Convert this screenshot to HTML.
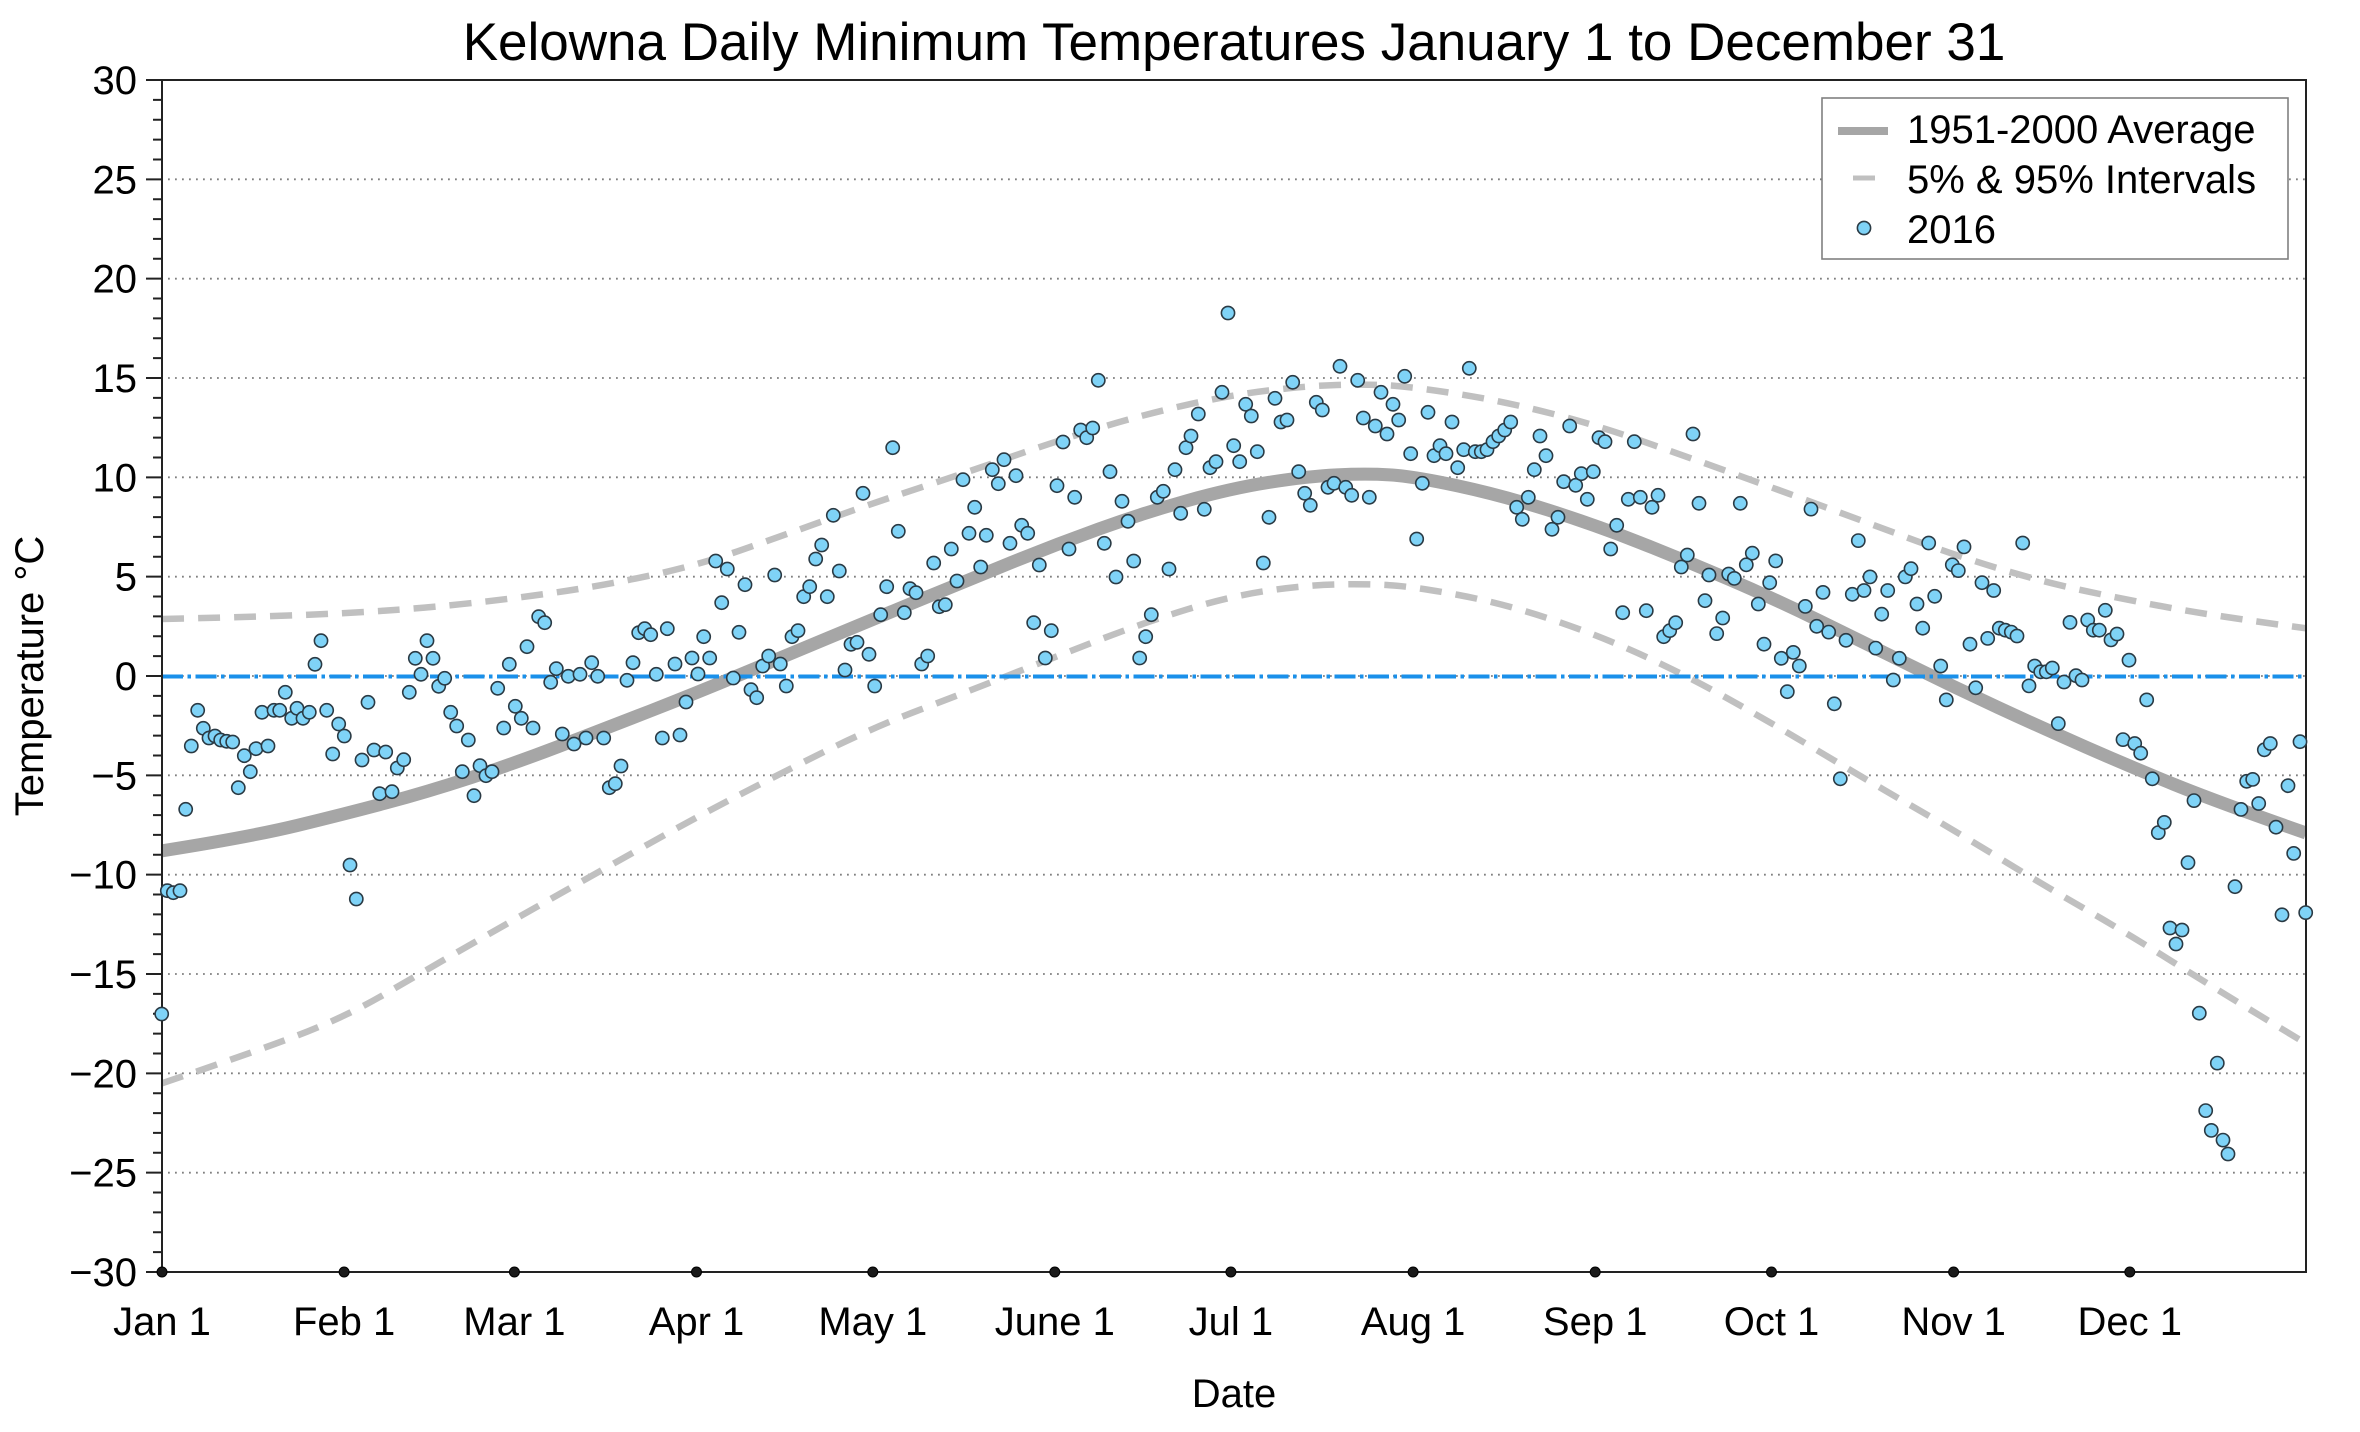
<!DOCTYPE html>
<html><head><meta charset="utf-8"><style>
html,body{margin:0;padding:0;background:#fff;}
svg{display:block;}
text{font-family:"Liberation Sans",Arial,Helvetica,sans-serif;fill:#000;}
</style></head><body>
<svg width="2360" height="1432" viewBox="0 0 2360 1432" xmlns="http://www.w3.org/2000/svg">
<defs><clipPath id="pa"><rect x="162" y="80" width="2144" height="1192"/></clipPath></defs>
<rect width="2360" height="1432" fill="#fff"/>
<text x="1234" y="60" font-size="53" text-anchor="middle">Kelowna Daily Minimum Temperatures January 1 to December 31</text>
<g stroke="#808080" stroke-width="1.8" stroke-dasharray="1.8 5.2" fill="none">
<path d="M168 179.3H2306M168 278.7H2306M168 378H2306M168 477.3H2306M168 576.7H2306M168 676H2306M168 775.3H2306M168 874.7H2306M168 974H2306M168 1073.3H2306M168 1172.7H2306"/>
</g>
<g clip-path="url(#pa)" fill="none">
<path stroke="#c0c0c0" stroke-width="6.5" stroke-dasharray="22 14" d="M162,619 Q250.1,617 297.1,615.2 Q344.1,613.4 385.2,610.65 Q426.3,607.9 470.35,603.2 Q514.4,598.5 558.5,592.05 Q602.6,585.6 649.55,575.65 Q696.5,565.7 740.55,550.3 Q784.6,534.9 828.7,519.05 Q872.8,503.2 919.75,487.8 Q966.7,472.4 1010.75,457 Q1054.8,441.6 1098.85,428.15 Q1142.9,414.7 1187,404.8 Q1231.1,394.9 1269.25,390.4 Q1307.4,385.9 1336.8,384.95 Q1366.2,384 1389.7,385.45 Q1413.2,386.9 1457.25,393.85 Q1501.3,400.8 1548.3,412.75 Q1595.3,424.7 1639.35,440.1 Q1683.4,455.5 1727.45,471.4 Q1771.5,487.3 1818.5,504.65 Q1865.5,522 1909.55,538.4 Q1953.6,554.8 1997.65,568.2 Q2041.7,581.6 2085.75,591.05 Q2129.8,600.5 2173.85,608.45 Q2217.9,616.4 2306,628.3"/>
<path stroke="#c0c0c0" stroke-width="6.5" stroke-dasharray="22 14" d="M162,1083.3 Q250.1,1053.5 297.1,1035.6 Q344.1,1017.7 385.2,993.85 Q426.3,970 470.35,944.7 Q514.4,919.4 558.5,894.55 Q602.6,869.7 649.55,843.4 Q696.5,817.1 740.55,794.25 Q784.6,771.4 828.7,749.55 Q872.8,727.7 919.75,709.8 Q966.7,691.9 1010.75,674.5 Q1054.8,657.1 1098.85,640.05 Q1142.9,623 1187,609.45 Q1231.1,595.9 1269.25,590.45 Q1307.4,585 1336.8,584.4 Q1366.2,583.8 1389.7,585.2 Q1413.2,586.6 1457.25,594.75 Q1501.3,602.9 1548.3,618.4 Q1595.3,633.9 1639.35,653.85 Q1683.4,673.8 1727.45,698.35 Q1771.5,722.9 1818.5,751.1 Q1865.5,779.3 1909.55,804.65 Q1953.6,830 1997.65,857 Q2041.7,884 2085.75,909.45 Q2129.8,934.9 2173.85,962.6 Q2217.9,990.3 2306,1043.5"/>
<path stroke="#a6a6a6" stroke-width="13" d="M162,850.8 Q250.1,836.9 297.1,825.5 Q344.1,814.1 385.2,803.15 Q426.3,792.2 470.35,777.8 Q514.4,763.4 558.5,746.5 Q602.6,729.6 649.55,711.25 Q696.5,692.9 740.55,674.5 Q784.6,656.1 828.7,637.75 Q872.8,619.4 919.75,600 Q966.7,580.6 1010.75,562.75 Q1054.8,544.9 1098.85,529 Q1142.9,513.1 1187,500.7 Q1231.1,488.3 1269.25,482.3 Q1307.4,476.3 1336.8,474.85 Q1366.2,473.4 1389.7,474.85 Q1413.2,476.3 1457.25,485.75 Q1501.3,495.2 1548.3,510.1 Q1595.3,525 1639.35,542.4 Q1683.4,559.8 1727.45,578.65 Q1771.5,597.5 1818.5,620.35 Q1865.5,643.2 1909.55,665.05 Q1953.6,686.9 1997.65,707.3 Q2041.7,727.7 2085.75,747.05 Q2129.8,766.4 2173.85,784.3 Q2217.9,802.2 2306,833"/>
</g>
<line x1="162" y1="676.5" x2="2306" y2="676.5" stroke="#1a90ea" stroke-width="4" stroke-dasharray="21 4.5 3.5 4.5"/>
<g stroke="#222" stroke-width="2" fill="none">
<rect x="162" y="80" width="2144" height="1192"/>
<path d="M146 80H162M153 99.87H162M153 119.73H162M153 139.6H162M153 159.47H162M146 179.33H162M153 199.2H162M153 219.07H162M153 238.93H162M153 258.8H162M146 278.67H162M153 298.53H162M153 318.4H162M153 338.27H162M153 358.13H162M146 378H162M153 397.87H162M153 417.73H162M153 437.6H162M153 457.47H162M146 477.33H162M153 497.2H162M153 517.07H162M153 536.93H162M153 556.8H162M146 576.67H162M153 596.53H162M153 616.4H162M153 636.27H162M153 656.13H162M146 676H162M153 695.87H162M153 715.73H162M153 735.6H162M153 755.47H162M146 775.33H162M153 795.2H162M153 815.07H162M153 834.93H162M153 854.8H162M146 874.67H162M153 894.53H162M153 914.4H162M153 934.27H162M153 954.13H162M146 974H162M153 993.87H162M153 1013.73H162M153 1033.6H162M153 1053.47H162M146 1073.33H162M153 1093.2H162M153 1113.07H162M153 1132.93H162M153 1152.8H162M146 1172.67H162M153 1192.53H162M153 1212.4H162M153 1232.27H162M153 1252.13H162M146 1272H162"/>
</g>
<g fill="#1a1a1a" stroke="#000" stroke-width="1">
<circle cx="162" cy="1272" r="5"/><circle cx="344.1" cy="1272" r="5"/><circle cx="514.4" cy="1272" r="5"/><circle cx="696.5" cy="1272" r="5"/><circle cx="872.8" cy="1272" r="5"/><circle cx="1054.8" cy="1272" r="5"/><circle cx="1230.9" cy="1272" r="5"/><circle cx="1413.1" cy="1272" r="5"/><circle cx="1595.2" cy="1272" r="5"/><circle cx="1771.5" cy="1272" r="5"/><circle cx="1953.6" cy="1272" r="5"/><circle cx="2129.8" cy="1272" r="5"/>
</g>
<g font-size="40" text-anchor="end">
<text x="137" y="94">30</text><text x="137" y="193.3">25</text><text x="137" y="292.7">20</text><text x="137" y="392">15</text><text x="137" y="491.3">10</text><text x="137" y="590.7">5</text><text x="137" y="690">0</text><text x="137" y="789.3">−5</text><text x="137" y="888.7">−10</text><text x="137" y="988">−15</text><text x="137" y="1087.3">−20</text><text x="137" y="1186.7">−25</text><text x="137" y="1286">−30</text>
</g>
<g font-size="40" text-anchor="middle">
<text x="162" y="1335">Jan 1</text><text x="344.1" y="1335">Feb 1</text><text x="514.4" y="1335">Mar 1</text><text x="696.5" y="1335">Apr 1</text><text x="872.8" y="1335">May 1</text><text x="1054.8" y="1335">June 1</text><text x="1230.9" y="1335">Jul 1</text><text x="1413.1" y="1335">Aug 1</text><text x="1595.2" y="1335">Sep 1</text><text x="1771.5" y="1335">Oct 1</text><text x="1953.6" y="1335">Nov 1</text><text x="2129.8" y="1335">Dec 1</text>
<text x="1234" y="1407">Date</text>
<text x="43" y="676" transform="rotate(-90 43 676)">Temperature °C</text>
</g>
<g fill="#7fd3f7" stroke="#2a3a44" stroke-width="1.6">
<circle cx="161.7" cy="1014" r="6.6"/><circle cx="167.3" cy="890.7" r="6.6"/><circle cx="173.3" cy="892.7" r="6.6"/><circle cx="180" cy="890.7" r="6.6"/><circle cx="185.7" cy="809.3" r="6.6"/><circle cx="191.3" cy="746" r="6.6"/><circle cx="197.7" cy="710.3" r="6.6"/><circle cx="203.3" cy="728.3" r="6.6"/><circle cx="209" cy="738" r="6.6"/><circle cx="215" cy="736" r="6.6"/><circle cx="220.7" cy="740" r="6.6"/><circle cx="226.7" cy="741.3" r="6.6"/><circle cx="232.7" cy="742" r="6.6"/><circle cx="238.3" cy="787.7" r="6.6"/><circle cx="244.3" cy="755.7" r="6.6"/><circle cx="250.3" cy="771.7" r="6.6"/><circle cx="256" cy="748.7" r="6.6"/><circle cx="262" cy="712.3" r="6.6"/><circle cx="268" cy="746" r="6.6"/><circle cx="274" cy="710.3" r="6.6"/><circle cx="279.7" cy="710.3" r="6.6"/><circle cx="285.3" cy="692.3" r="6.6"/><circle cx="291.7" cy="718.3" r="6.6"/><circle cx="297" cy="708.3" r="6.6"/><circle cx="303" cy="718.3" r="6.6"/><circle cx="309.3" cy="712.3" r="6.6"/><circle cx="315" cy="664.3" r="6.6"/><circle cx="321" cy="640.7" r="6.6"/><circle cx="326.7" cy="710.3" r="6.6"/><circle cx="332.7" cy="754" r="6.6"/><circle cx="338.7" cy="724" r="6.6"/><circle cx="344.3" cy="736" r="6.6"/><circle cx="350" cy="865" r="6.6"/><circle cx="356.3" cy="899" r="6.6"/><circle cx="362" cy="760" r="6.6"/><circle cx="368" cy="702.3" r="6.6"/><circle cx="374" cy="750" r="6.6"/><circle cx="379.7" cy="793.7" r="6.6"/><circle cx="385.7" cy="752" r="6.6"/><circle cx="392" cy="791.7" r="6.6"/><circle cx="397.3" cy="768" r="6.6"/><circle cx="403.7" cy="759.7" r="6.6"/><circle cx="409.3" cy="692.3" r="6.6"/><circle cx="415.3" cy="658.3" r="6.6"/><circle cx="421" cy="674.3" r="6.6"/><circle cx="427" cy="640.7" r="6.6"/><circle cx="433" cy="658.3" r="6.6"/><circle cx="438.7" cy="686.3" r="6.6"/><circle cx="444.7" cy="678.3" r="6.6"/><circle cx="450.7" cy="712.3" r="6.6"/><circle cx="456.7" cy="726" r="6.6"/><circle cx="462.3" cy="771.7" r="6.6"/><circle cx="468.3" cy="740" r="6.6"/><circle cx="474" cy="795.7" r="6.6"/><circle cx="480" cy="765.7" r="6.6"/><circle cx="486" cy="775.7" r="6.6"/><circle cx="492" cy="771.7" r="6.6"/><circle cx="497.7" cy="688.3" r="6.6"/><circle cx="503.7" cy="728" r="6.6"/><circle cx="509.3" cy="664.3" r="6.6"/><circle cx="515.3" cy="706.3" r="6.6"/><circle cx="521.3" cy="718.3" r="6.6"/><circle cx="527" cy="646.7" r="6.6"/><circle cx="533" cy="728" r="6.6"/><circle cx="538.7" cy="616.7" r="6.6"/><circle cx="544.7" cy="622.7" r="6.6"/><circle cx="550.7" cy="682.3" r="6.6"/><circle cx="556.3" cy="668.7" r="6.6"/><circle cx="562.3" cy="734" r="6.6"/><circle cx="568.3" cy="676.3" r="6.6"/><circle cx="574" cy="744" r="6.6"/><circle cx="580" cy="674.3" r="6.6"/><circle cx="586" cy="738" r="6.6"/><circle cx="591.7" cy="662.7" r="6.6"/><circle cx="597.7" cy="676.3" r="6.6"/><circle cx="603.7" cy="738" r="6.6"/><circle cx="609.3" cy="787.7" r="6.6"/><circle cx="615.3" cy="783.7" r="6.6"/><circle cx="621" cy="766" r="6.6"/><circle cx="627" cy="680.3" r="6.6"/><circle cx="633" cy="662.7" r="6.6"/><circle cx="638.7" cy="632.7" r="6.6"/><circle cx="644.7" cy="628.7" r="6.6"/><circle cx="650.7" cy="634.7" r="6.6"/><circle cx="656.3" cy="674.3" r="6.6"/><circle cx="662.3" cy="738" r="6.6"/><circle cx="667.3" cy="628.7" r="6.6"/>
<circle cx="675" cy="664" r="6.6"/><circle cx="680" cy="735" r="6.6"/><circle cx="686" cy="702" r="6.6"/><circle cx="692" cy="658" r="6.6"/><circle cx="698" cy="674" r="6.6"/><circle cx="703.7" cy="636.7" r="6.6"/><circle cx="709.7" cy="658" r="6.6"/><circle cx="715.7" cy="561" r="6.6"/><circle cx="721.7" cy="602.7" r="6.6"/><circle cx="727.3" cy="569" r="6.6"/><circle cx="733.3" cy="678" r="6.6"/><circle cx="739" cy="632.3" r="6.6"/><circle cx="745" cy="584.7" r="6.6"/><circle cx="751" cy="689.7" r="6.6"/><circle cx="756.7" cy="697.7" r="6.6"/><circle cx="762.7" cy="666" r="6.6"/><circle cx="768.7" cy="656" r="6.6"/><circle cx="774.7" cy="575" r="6.6"/><circle cx="780.3" cy="664" r="6.6"/><circle cx="786.3" cy="686" r="6.6"/><circle cx="792" cy="636.7" r="6.6"/><circle cx="798" cy="630.7" r="6.6"/><circle cx="803.7" cy="596.7" r="6.6"/><circle cx="809.7" cy="586.7" r="6.6"/><circle cx="815.7" cy="559" r="6.6"/><circle cx="821.7" cy="545" r="6.6"/><circle cx="827.3" cy="596.7" r="6.6"/><circle cx="833.3" cy="515.3" r="6.6"/><circle cx="839.3" cy="571" r="6.6"/><circle cx="845" cy="670" r="6.6"/><circle cx="851" cy="644.3" r="6.6"/><circle cx="857" cy="642.3" r="6.6"/><circle cx="863" cy="493.3" r="6.6"/><circle cx="869" cy="654.3" r="6.6"/><circle cx="874.7" cy="686" r="6.6"/><circle cx="880.7" cy="614.7" r="6.6"/><circle cx="886.7" cy="586.7" r="6.6"/><circle cx="892.7" cy="447.7" r="6.6"/><circle cx="898.3" cy="531.3" r="6.6"/><circle cx="904.3" cy="612.7" r="6.6"/><circle cx="910" cy="588.7" r="6.6"/><circle cx="916" cy="592.7" r="6.6"/><circle cx="921.7" cy="664" r="6.6"/><circle cx="927.7" cy="656" r="6.6"/><circle cx="933.7" cy="563" r="6.6"/><circle cx="939.3" cy="606.7" r="6.6"/><circle cx="945.3" cy="604.7" r="6.6"/><circle cx="951.3" cy="549" r="6.6"/><circle cx="957" cy="581" r="6.6"/><circle cx="963" cy="479.7" r="6.6"/><circle cx="969" cy="533.3" r="6.6"/><circle cx="974.7" cy="507.3" r="6.6"/><circle cx="980.7" cy="567" r="6.6"/><circle cx="986.3" cy="535.3" r="6.6"/><circle cx="992.3" cy="469.7" r="6.6"/><circle cx="998.3" cy="483.7" r="6.6"/><circle cx="1004" cy="459.7" r="6.6"/><circle cx="1010" cy="543.3" r="6.6"/><circle cx="1016" cy="475.7" r="6.6"/><circle cx="1021.7" cy="525.3" r="6.6"/><circle cx="1027.7" cy="533.3" r="6.6"/><circle cx="1033.7" cy="622.7" r="6.6"/><circle cx="1039.3" cy="565" r="6.6"/><circle cx="1045.3" cy="658" r="6.6"/><circle cx="1051.3" cy="630.7" r="6.6"/><circle cx="1057" cy="485.7" r="6.6"/><circle cx="1063" cy="442" r="6.6"/><circle cx="1069" cy="549" r="6.6"/><circle cx="1074.7" cy="497.3" r="6.6"/><circle cx="1080.7" cy="430" r="6.6"/><circle cx="1086.7" cy="437.7" r="6.6"/><circle cx="1092.7" cy="428" r="6.6"/><circle cx="1098.3" cy="380.3" r="6.6"/><circle cx="1104.3" cy="543.3" r="6.6"/><circle cx="1110" cy="471.7" r="6.6"/><circle cx="1116" cy="577" r="6.6"/><circle cx="1122" cy="501.3" r="6.6"/><circle cx="1128" cy="521.3" r="6.6"/><circle cx="1133.7" cy="561" r="6.6"/><circle cx="1139.7" cy="658" r="6.6"/><circle cx="1145.7" cy="636.7" r="6.6"/><circle cx="1151.3" cy="614.7" r="6.6"/><circle cx="1157.3" cy="497.3" r="6.6"/><circle cx="1163.3" cy="491.3" r="6.6"/><circle cx="1169" cy="569" r="6.6"/><circle cx="1175" cy="469.7" r="6.6"/><circle cx="1180.7" cy="513.3" r="6.6"/><circle cx="1186" cy="447.7" r="6.6"/><circle cx="1191" cy="436" r="6.6"/>
<circle cx="1198.3" cy="414" r="6.6"/><circle cx="1204.3" cy="509.3" r="6.6"/><circle cx="1210" cy="467.7" r="6.6"/><circle cx="1216" cy="461.7" r="6.6"/><circle cx="1222" cy="392.3" r="6.6"/><circle cx="1228" cy="313" r="6.6"/><circle cx="1233.7" cy="445.7" r="6.6"/><circle cx="1239.7" cy="461.7" r="6.6"/><circle cx="1245.7" cy="404.3" r="6.6"/><circle cx="1251.3" cy="416" r="6.6"/><circle cx="1257.3" cy="451.7" r="6.6"/><circle cx="1263.3" cy="563" r="6.6"/><circle cx="1269" cy="517.3" r="6.6"/><circle cx="1275" cy="398.3" r="6.6"/><circle cx="1281" cy="422" r="6.6"/><circle cx="1287" cy="420" r="6.6"/><circle cx="1292.7" cy="382.3" r="6.6"/><circle cx="1298.7" cy="471.7" r="6.6"/><circle cx="1304.7" cy="493.3" r="6.6"/><circle cx="1310.3" cy="505.3" r="6.6"/><circle cx="1316.3" cy="402.3" r="6.6"/><circle cx="1322.3" cy="410" r="6.6"/><circle cx="1328" cy="487.3" r="6.6"/><circle cx="1334" cy="483.3" r="6.6"/><circle cx="1340" cy="366.3" r="6.6"/><circle cx="1345.7" cy="487.3" r="6.6"/><circle cx="1351.7" cy="495.3" r="6.6"/><circle cx="1357.7" cy="380.3" r="6.6"/><circle cx="1363.3" cy="418" r="6.6"/><circle cx="1369.3" cy="497.3" r="6.6"/><circle cx="1375.3" cy="426" r="6.6"/><circle cx="1381" cy="392.3" r="6.6"/><circle cx="1387" cy="434" r="6.6"/><circle cx="1393" cy="404.3" r="6.6"/><circle cx="1398.7" cy="420" r="6.6"/><circle cx="1404.7" cy="376.3" r="6.6"/><circle cx="1410.7" cy="453.7" r="6.6"/><circle cx="1416.7" cy="539" r="6.6"/><circle cx="1422.3" cy="483.3" r="6.6"/><circle cx="1428" cy="412.3" r="6.6"/><circle cx="1434" cy="455.7" r="6.6"/><circle cx="1440" cy="445.7" r="6.6"/><circle cx="1446" cy="453.7" r="6.6"/><circle cx="1452" cy="422" r="6.6"/><circle cx="1457.7" cy="467.7" r="6.6"/><circle cx="1463.7" cy="449.7" r="6.6"/><circle cx="1469.3" cy="368.3" r="6.6"/><circle cx="1475.3" cy="451.7" r="6.6"/><circle cx="1481.3" cy="451.7" r="6.6"/><circle cx="1487" cy="449.7" r="6.6"/><circle cx="1493" cy="441.7" r="6.6"/><circle cx="1498.7" cy="436" r="6.6"/><circle cx="1504.7" cy="430" r="6.6"/><circle cx="1510.7" cy="422" r="6.6"/><circle cx="1516.7" cy="507.3" r="6.6"/><circle cx="1522.3" cy="519.3" r="6.6"/><circle cx="1528.3" cy="497.3" r="6.6"/><circle cx="1534.3" cy="469.7" r="6.6"/><circle cx="1540" cy="436" r="6.6"/><circle cx="1546" cy="455.7" r="6.6"/><circle cx="1552" cy="529.3" r="6.6"/><circle cx="1558" cy="517.3" r="6.6"/><circle cx="1563.7" cy="481.7" r="6.6"/><circle cx="1569.7" cy="426" r="6.6"/><circle cx="1575.7" cy="485.3" r="6.6"/><circle cx="1581.3" cy="473.7" r="6.6"/><circle cx="1587.3" cy="499.3" r="6.6"/><circle cx="1593.3" cy="471.7" r="6.6"/><circle cx="1599" cy="437.7" r="6.6"/><circle cx="1605" cy="441.7" r="6.6"/><circle cx="1610.7" cy="549" r="6.6"/><circle cx="1616.7" cy="525.3" r="6.6"/><circle cx="1622.7" cy="612.7" r="6.6"/><circle cx="1628.3" cy="499.3" r="6.6"/><circle cx="1634.3" cy="441.7" r="6.6"/><circle cx="1640.3" cy="497.3" r="6.6"/><circle cx="1646.3" cy="610.7" r="6.6"/><circle cx="1652" cy="507.3" r="6.6"/><circle cx="1658" cy="495.3" r="6.6"/><circle cx="1663.7" cy="636.7" r="6.6"/><circle cx="1669.7" cy="630.7" r="6.6"/><circle cx="1675.7" cy="622.7" r="6.6"/><circle cx="1681.3" cy="567" r="6.6"/><circle cx="1687.3" cy="555" r="6.6"/><circle cx="1693" cy="434" r="6.6"/><circle cx="1699" cy="503.3" r="6.6"/><circle cx="1705" cy="600.7" r="6.6"/><circle cx="1709" cy="575" r="6.6"/>
<circle cx="1716.7" cy="633.6" r="6.6"/><circle cx="1722.7" cy="618" r="6.6"/><circle cx="1728.7" cy="574" r="6.6"/><circle cx="1734.3" cy="578.4" r="6.6"/><circle cx="1740.3" cy="503.3" r="6.6"/><circle cx="1746.3" cy="564.8" r="6.6"/><circle cx="1752.3" cy="553.2" r="6.6"/><circle cx="1758.3" cy="604" r="6.6"/><circle cx="1764" cy="644.2" r="6.6"/><circle cx="1769.7" cy="582.7" r="6.6"/><circle cx="1775.7" cy="560.9" r="6.6"/><circle cx="1781.3" cy="658.3" r="6.6"/><circle cx="1787.3" cy="691.7" r="6.6"/><circle cx="1793.3" cy="652.4" r="6.6"/><circle cx="1799.3" cy="666" r="6.6"/><circle cx="1805.3" cy="606.4" r="6.6"/><circle cx="1811" cy="509.1" r="6.6"/><circle cx="1816.7" cy="626.3" r="6.6"/><circle cx="1823" cy="592.4" r="6.6"/><circle cx="1828.7" cy="632.1" r="6.6"/><circle cx="1834.3" cy="703.8" r="6.6"/><circle cx="1840.3" cy="778.8" r="6.6"/><circle cx="1846" cy="640.3" r="6.6"/><circle cx="1852.3" cy="594.3" r="6.6"/><circle cx="1858.3" cy="540.6" r="6.6"/><circle cx="1864" cy="590.5" r="6.6"/><circle cx="1870" cy="576.9" r="6.6"/><circle cx="1875.7" cy="648.1" r="6.6"/><circle cx="1881.7" cy="614.2" r="6.6"/><circle cx="1887.7" cy="590.5" r="6.6"/><circle cx="1893.3" cy="680" r="6.6"/><circle cx="1899.3" cy="658.3" r="6.6"/><circle cx="1905.3" cy="576.9" r="6.6"/><circle cx="1911" cy="568.7" r="6.6"/><circle cx="1917" cy="604" r="6.6"/><circle cx="1922.7" cy="628.2" r="6.6"/><circle cx="1928.7" cy="543" r="6.6"/><circle cx="1934.7" cy="596.3" r="6.6"/><circle cx="1940.7" cy="666" r="6.6"/><circle cx="1946.3" cy="699.9" r="6.6"/><circle cx="1952.3" cy="564.8" r="6.6"/><circle cx="1958.3" cy="570.6" r="6.6"/><circle cx="1964" cy="546.9" r="6.6"/><circle cx="1970" cy="644.2" r="6.6"/><circle cx="1975.7" cy="687.8" r="6.6"/><circle cx="1982" cy="582.7" r="6.6"/><circle cx="1987.7" cy="638.4" r="6.6"/><circle cx="1993.7" cy="590.5" r="6.6"/><circle cx="1999.3" cy="628.2" r="6.6"/><circle cx="2005.3" cy="630.2" r="6.6"/><circle cx="2011.3" cy="632.1" r="6.6"/><circle cx="2017" cy="636" r="6.6"/><circle cx="2022.7" cy="543" r="6.6"/><circle cx="2029" cy="685.9" r="6.6"/><circle cx="2034.7" cy="666" r="6.6"/><circle cx="2040.7" cy="671.8" r="6.6"/><circle cx="2046.3" cy="671.8" r="6.6"/><circle cx="2052.3" cy="668" r="6.6"/><circle cx="2058.3" cy="723.6" r="6.6"/><circle cx="2064" cy="682" r="6.6"/><circle cx="2070" cy="622.4" r="6.6"/><circle cx="2076" cy="675.7" r="6.6"/><circle cx="2082" cy="680" r="6.6"/><circle cx="2087.7" cy="620" r="6.6"/><circle cx="2093.3" cy="630.2" r="6.6"/><circle cx="2099.3" cy="630.2" r="6.6"/><circle cx="2105.3" cy="610.3" r="6.6"/><circle cx="2111" cy="639.9" r="6.6"/><circle cx="2117" cy="634" r="6.6"/><circle cx="2123" cy="739.6" r="6.6"/><circle cx="2129" cy="660.2" r="6.6"/><circle cx="2134.7" cy="743.5" r="6.6"/><circle cx="2140.7" cy="753.2" r="6.6"/><circle cx="2146.7" cy="699.9" r="6.6"/><circle cx="2152.3" cy="778.8" r="6.6"/><circle cx="2158.3" cy="832.6" r="6.6"/><circle cx="2164.3" cy="822.4" r="6.6"/><circle cx="2170" cy="928" r="6.6"/><circle cx="2176" cy="944" r="6.6"/><circle cx="2182" cy="930" r="6.6"/><circle cx="2188" cy="862.6" r="6.6"/><circle cx="2194" cy="800.6" r="6.6"/><circle cx="2199.3" cy="1013.2" r="6.6"/><circle cx="2205.7" cy="1110.6" r="6.6"/><circle cx="2211.3" cy="1130.4" r="6.6"/><circle cx="2217.3" cy="1063.1" r="6.6"/><circle cx="2223" cy="1140.1" r="6.6"/><circle cx="2228" cy="1154" r="6.6"/><circle cx="2235" cy="886.7" r="6.6"/><circle cx="2241" cy="809.4" r="6.6"/><circle cx="2246.7" cy="781.3" r="6.6"/><circle cx="2252.7" cy="779.4" r="6.6"/><circle cx="2258.7" cy="803.5" r="6.6"/><circle cx="2264.3" cy="749.8" r="6.6"/><circle cx="2270.3" cy="743.5" r="6.6"/><circle cx="2276" cy="827.2" r="6.6"/><circle cx="2282" cy="914.8" r="6.6"/><circle cx="2288" cy="785.7" r="6.6"/><circle cx="2293.7" cy="853.4" r="6.6"/><circle cx="2300" cy="741.7" r="6.6"/><circle cx="2305.7" cy="912.6" r="6.6"/>
</g>
<rect x="1822" y="98" width="466" height="161" fill="#fff" stroke="#808080" stroke-width="1.6"/>
<line x1="1838" y1="131" x2="1888" y2="131" stroke="#a6a6a6" stroke-width="8"/>
<line x1="1853" y1="178" x2="1875" y2="178" stroke="#c0c0c0" stroke-width="5"/>
<circle cx="1864" cy="228" r="6.6" fill="#7fd3f7" stroke="#2a3a44" stroke-width="1.6"/>
<g font-size="40">
<text x="1907" y="143">1951-2000 Average</text>
<text x="1907" y="193">5% &amp; 95% Intervals</text>
<text x="1907" y="243">2016</text>
</g>
</svg>
</body></html>
